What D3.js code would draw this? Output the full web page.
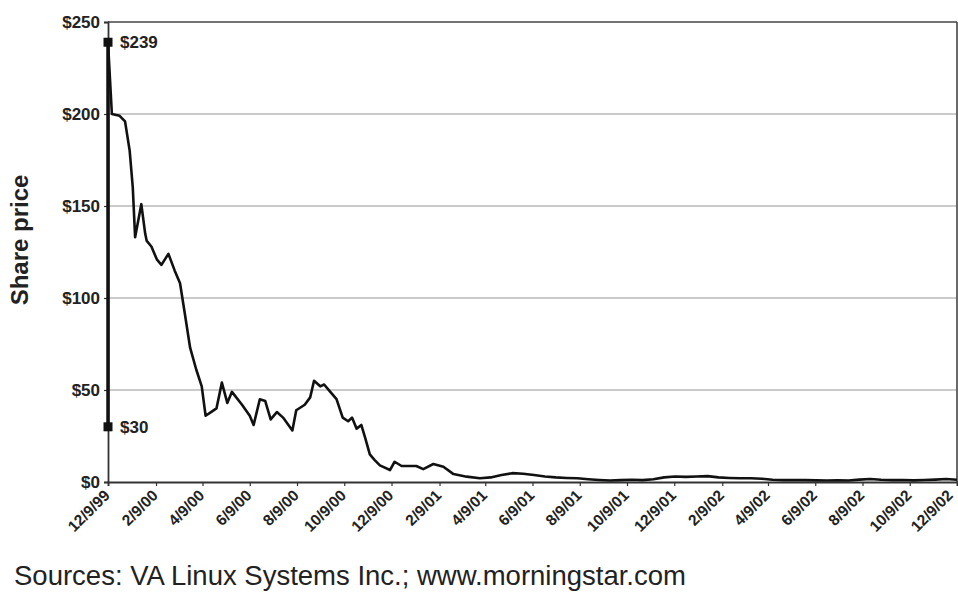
<!DOCTYPE html>
<html>
<head>
<meta charset="utf-8">
<script src="https://cdn.jsdelivr.net/npm/d3@7"></script>
<style>
  html, body { margin: 0; padding: 0; background: #fff; }
  svg { display: block; }
  text { font-family: "Liberation Sans", Arial, Helvetica, sans-serif; }
</style>
</head>
<body>
<svg id="chart" width="958" height="596"></svg>
<script>
// ---- Data ----
const dates = [
  "1999-12-09","1999-12-14","1999-12-24","1999-12-31","2000-01-06","2000-01-10","2000-01-13",
  "2000-01-21","2000-01-26","2000-01-28","2000-02-03","2000-02-10","2000-02-16","2000-02-25",
  "2000-03-04","2000-03-11","2000-03-17","2000-03-24","2000-04-01","2000-04-08","2000-04-13",
  "2000-04-20","2000-04-27","2000-05-04","2000-05-11","2000-05-17","2000-05-30","2000-06-09",
  "2000-06-14","2000-06-22","2000-06-29","2000-07-06","2000-07-14","2000-07-22","2000-08-03",
  "2000-08-08","2000-08-19","2000-08-26","2000-08-31","2000-09-08","2000-09-13","2000-09-21",
  "2000-09-29","2000-10-07","2000-10-14","2000-10-19","2000-10-25","2000-10-31","2000-11-05",
  "2000-11-11","2000-11-17","2000-11-24","2000-12-07","2000-12-13","2000-12-22","2001-01-10",
  "2001-01-19","2001-02-01","2001-02-14","2001-02-27","2001-03-16","2001-04-02","2001-04-16",
  "2001-04-30","2001-05-14","2001-05-28","2001-06-11","2001-06-25","2001-07-09","2001-07-23",
  "2001-08-06","2001-08-20","2001-09-03","2001-09-17","2001-10-01","2001-10-15","2001-10-29",
  "2001-11-12","2001-11-26","2001-12-10","2001-12-24","2002-01-07","2002-01-21","2002-02-04",
  "2002-02-18","2002-03-04","2002-03-18","2002-04-01","2002-04-15","2002-04-29","2002-05-13",
  "2002-05-27","2002-06-10","2002-06-24","2002-07-08","2002-07-22","2002-08-05","2002-08-19",
  "2002-09-02","2002-09-16","2002-09-30","2002-10-14","2002-10-28","2002-11-11","2002-11-25",
  "2002-12-09"
];
const prices = [
  239, 200, 199, 196, 180, 160, 133,
  151, 135, 131, 128, 121, 118, 124,
  115, 108, 92, 73, 61, 52, 36,
  38, 40, 54, 43, 49, 42, 36,
  31, 45, 44, 34, 38, 35, 28,
  39, 42, 46, 55, 52, 53, 49,
  45, 35, 33, 35, 29, 31, 24,
  15, 12, 9, 6.5, 11, 8.7, 8.7,
  7, 9.8, 8.3, 4.3, 2.9, 2.0, 2.5,
  3.8, 4.8, 4.5, 3.8, 3.0, 2.5, 2.2,
  2.0, 1.5, 1.1, 0.8, 1.0, 1.2, 1.0,
  1.5, 2.5, 3.0, 2.8, 3.0, 3.2, 2.5,
  2.2, 2.0, 2.0, 1.8, 1.2, 1.0, 1.1,
  1.0, 0.9, 0.8, 0.9, 0.8, 1.3, 1.6,
  1.2, 1.0, 1.1, 0.9, 1.1, 1.3, 1.6,
  1.2
];
const ipoDate = "1999-12-09";
const ipoOffer = 30;     // offering price
const ipoClose = 239;    // first-day close
const xTickLabels = ["12/9/99","2/9/00","4/9/00","6/9/00","8/9/00","10/9/00","12/9/00",
  "2/9/01","4/9/01","6/9/01","8/9/01","10/9/01","12/9/01","2/9/02","4/9/02","6/9/02",
  "8/9/02","10/9/02","12/9/02"];
const yTicks = [0, 50, 100, 150, 200, 250];
const gridValues = [50, 100, 150, 200];
const yTitle = "Share price";
const sourceText = "Sources: VA Linux Systems Inc.; www.morningstar.com";

// ---- Layout ----
const svg = d3.select("#chart");
const L = 108, R = 957, T = 22, B = 482;
const parseISO = d3.timeParse("%Y-%m-%d");
const parseLbl = d3.timeParse("%m/%d/%y");

const x = d3.scaleTime()
  .domain([parseISO("1999-12-09"), parseISO("2002-12-09")])
  .range([L, R]);
const y = d3.scaleLinear().domain([0, 250]).range([B, T]);

const data = dates.map((d, i) => ({ date: parseISO(d), value: prices[i] }));

// gridlines
svg.append("g").selectAll("line").data(gridValues).join("line")
  .attr("x1", L).attr("x2", R)
  .attr("y1", d => y(d)).attr("y2", d => y(d))
  .attr("stroke", "#b8b8b8").attr("stroke-width", 1.5);

// frame top/right
svg.append("line").attr("x1", L).attr("x2", R).attr("y1", T).attr("y2", T)
  .attr("stroke", "#444").attr("stroke-width", 1.6);
svg.append("line").attr("x1", R).attr("x2", R).attr("y1", T).attr("y2", B)
  .attr("stroke", "#444").attr("stroke-width", 1.6);

// y axis
const yAxis = svg.append("g").attr("transform", `translate(${L},0)`)
  .call(d3.axisLeft(y).tickValues(yTicks).tickSize(4).tickPadding(4)
    .tickFormat(d => "$" + d));
yAxis.select(".domain").attr("stroke", "#333").attr("stroke-width", 1.8);
yAxis.selectAll(".tick line").attr("stroke", "#333").attr("stroke-width", 1.2);
yAxis.selectAll(".tick text")
  .attr("font-size", 17).attr("font-weight", "bold").attr("fill", "#222")
  .attr("font-family", "'Liberation Sans', Arial, sans-serif");

// x axis
const xAxis = svg.append("g").attr("transform", `translate(0,${B})`)
  .call(d3.axisBottom(x).tickValues(xTickLabels.map(parseLbl)).tickSize(4)
    .tickFormat((d, i) => xTickLabels[i]));
xAxis.select(".domain").attr("stroke", "#333").attr("stroke-width", 1.8);
xAxis.selectAll(".tick line").attr("stroke", "#333").attr("stroke-width", 1.2);
const nX = xTickLabels.length;
xAxis.selectAll(".tick text")
  .attr("font-size", 15.5).attr("font-weight", "bold").attr("fill", "#222")
  .attr("font-family", "'Liberation Sans', Arial, sans-serif")
  .attr("text-anchor", "end")
  .attr("dy", "0.3em")
  .attr("transform", (d, i) => i === nX - 1 ? "translate(-7,11) rotate(-45)" : "translate(-1,11) rotate(-45)")
  .attr("x", 0).attr("y", 0);

// IPO day high-low bar
const ipoX = x(parseISO(ipoDate));
svg.append("line")
  .attr("x1", ipoX).attr("x2", ipoX)
  .attr("y1", y(ipoOffer)).attr("y2", y(ipoClose))
  .attr("stroke", "#111").attr("stroke-width", 3.5);

// price line
svg.append("path").datum(data)
  .attr("fill", "none").attr("stroke", "#111").attr("stroke-width", 2.6)
  .attr("stroke-linejoin", "round")
  .attr("d", d3.line().x(d => x(d.date)).y(d => y(d.value)));

// markers
const marks = [ipoClose, ipoOffer];
svg.append("g").selectAll("rect").data(marks).join("rect")
  .attr("x", ipoX - 4.5).attr("y", d => y(d) - 4.5)
  .attr("width", 9).attr("height", 9).attr("fill", "#111");
svg.append("g").selectAll("text").data(marks).join("text")
  .attr("x", ipoX + 12).attr("y", d => y(d)).attr("dy", "0.35em")
  .attr("font-size", 17).attr("font-weight", "bold").attr("fill", "#222")
  .text(d => "$" + d);

// y title
svg.append("text")
  .attr("transform", `translate(28,240) rotate(-90)`)
  .attr("text-anchor", "middle")
  .attr("font-size", 24).attr("font-weight", "bold").attr("fill", "#222")
  .text(yTitle);

// source
svg.append("text")
  .attr("x", 14).attr("y", 585)
  .attr("font-size", 27.5).attr("fill", "#222")
  .text(sourceText);
</script>
</body>
</html>
